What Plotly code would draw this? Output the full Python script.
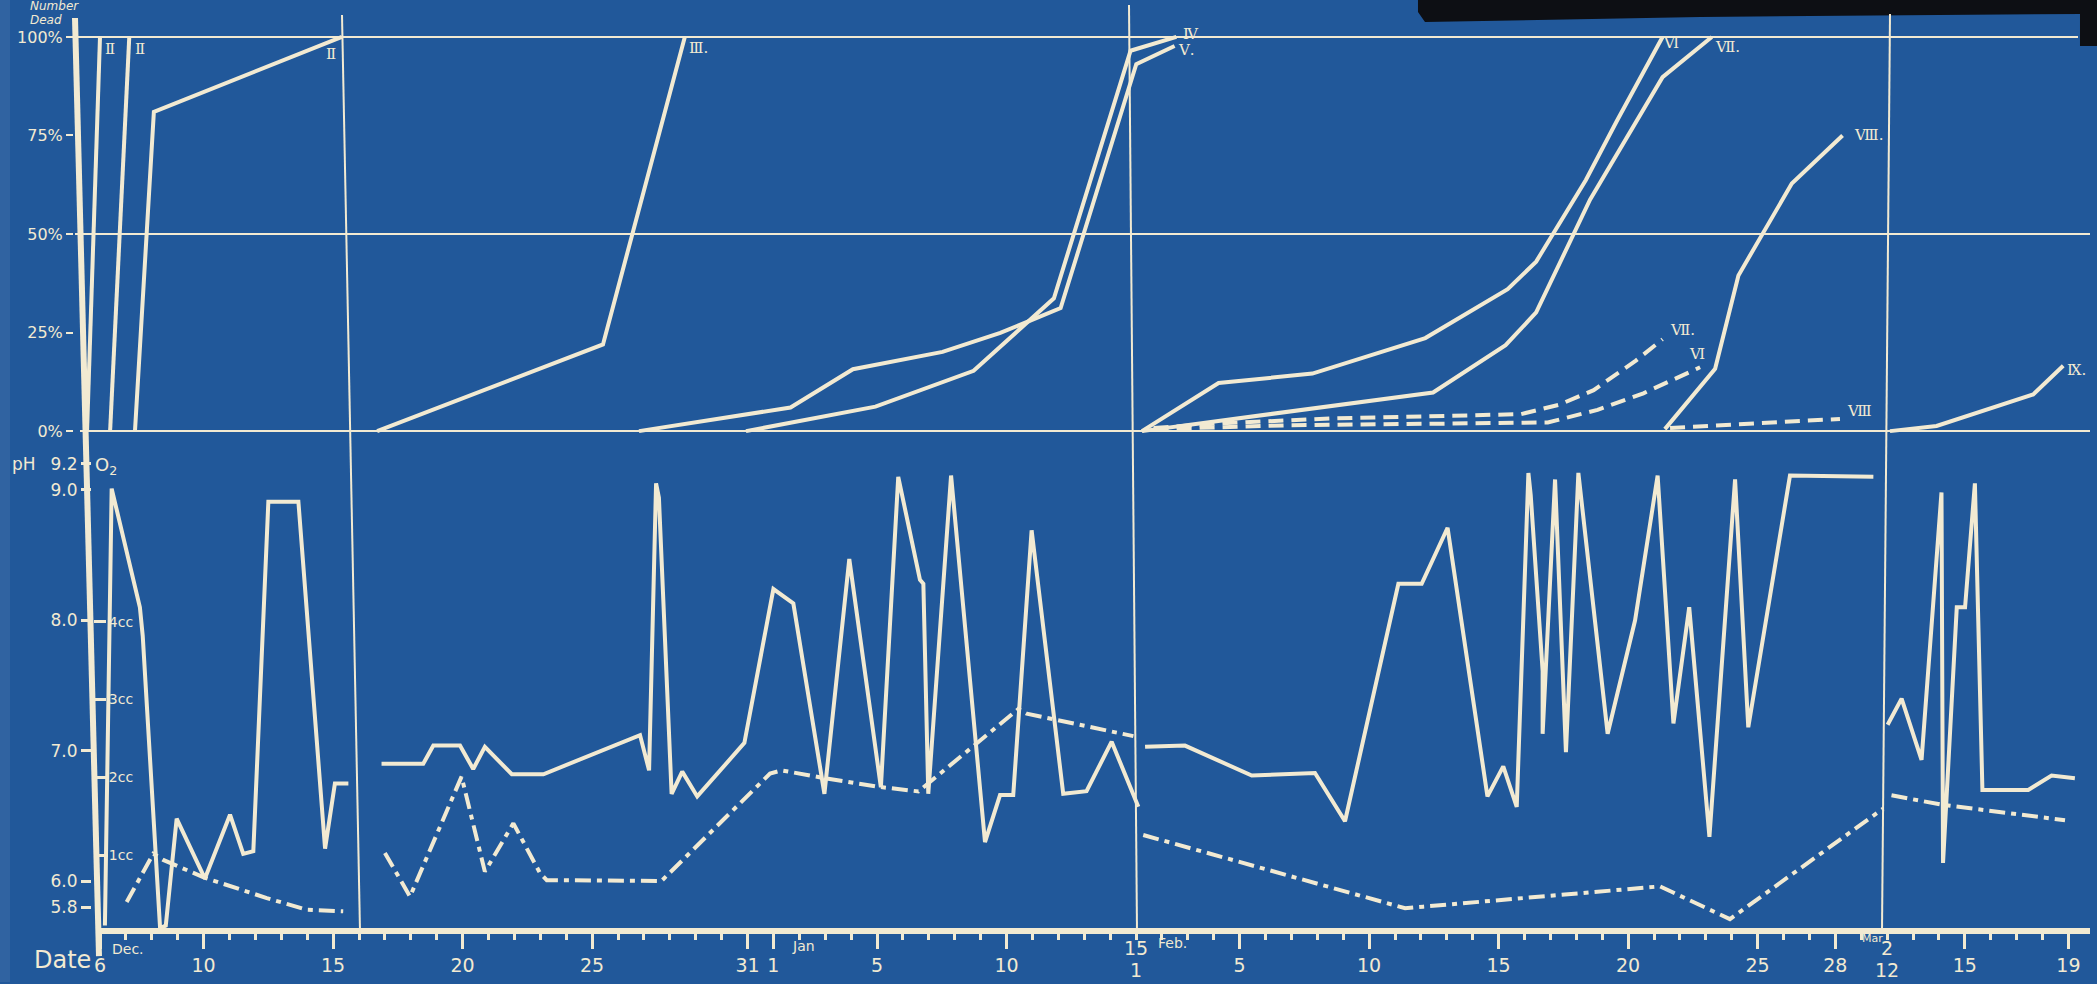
import plotly.graph_objects as go

W, H = 2097, 984
BLUE = "#21589a"
INK = "#f2ead2"

# Date scale: chart days counted from Dec 6; Jan 15 and Feb 1 share one position,
# as do Mar 2 and Mar 12.
tick_days = [0, 4, 9, 14, 19, 25, 26, 30, 35, 44, 49, 54, 59, 64, 67, 72, 76]
tick_text = ["6", "10", "15", "20", "25", "31", "1", "5", "10",
             "5", "10", "15", "20", "25", "28", "15", "19"]
join_days = [40, 69]
join_text = [("15", "1"), ("2", "12")]

# ---- Number dead (%), solid curves ----
dead_IIa_day = [-0.50, 0.00]
dead_IIa_pct = [0, 100]
dead_IIb_day = [0.39, 1.13]
dead_IIb_pct = [0, 100]
dead_IIc_day = [1.35, 2.08, 9.34]
dead_IIc_pct = [0, 81, 100]
dead_III_day = [10.70, 19.42, 22.58]
dead_III_pct = [0, 22, 100]
dead_IV_day = [24.94, 29.94, 33.73, 36.83, 39.79, 41.56]
dead_IV_pct = [0, 6.2, 15.3, 33.7, 96.5, 100]
dead_V_day = [20.81, 26.66, 29.07, 32.53, 34.76, 37.09, 40.01, 41.49]
dead_V_pct = [0, 6.0, 15.7, 20.1, 24.9, 31.2, 93.1, 97.7]
dead_VI_day = [40.23, 43.19, 46.81, 51.17, 54.35, 55.45, 57.37, 58.56, 60.33]
dead_VI_pct = [0, 12.2, 14.6, 23.6, 36.0, 43.0, 63.7, 78.6, 100]
dead_VII_day = [40.23, 51.47, 54.27, 55.45, 57.53, 60.33, 62.23]
dead_VII_pct = [0, 9.8, 21.8, 30.1, 58.7, 89.8, 100]
dead_VIII_day = [60.42, 62.36, 63.26, 65.32, 67.28]
dead_VIII_pct = [0.5, 15.8, 39.5, 62.8, 75]
dead_IX_day = [69.11, 70.91, 74.64, 75.80]
dead_IX_pct = [0, 1.3, 9.3, 16.6]

# ---- Number dead (%), dashed curves ----
dead_VIIb_day = [40.68, 43.34, 47.48, 51.91, 54.86, 56.34, 57.67, 59.30, 60.33]
dead_VIIb_pct = [0.8, 2.0, 3.2, 4.0, 4.3, 6.7, 10.4, 17.9, 23.3]
dead_VIb_day = [40.68, 46.00, 51.91, 55.90, 57.82, 59.59, 61.78]
dead_VIb_pct = [0.5, 1.5, 1.9, 2.2, 5.4, 9.6, 16.2]
dead_VIIIb_day = [60.62, 67.18]
dead_VIIIb_pct = [0.8, 3.1]

# ---- pH ----
ph_dec_day = [0.19, 0.45, 1.54, 1.65, 2.32, 2.54, 2.96, 4.05, 5.02, 5.53, 5.92,
              6.50, 7.66, 8.69, 9.07, 9.59]
ph_dec = [5.66, 9.01, 8.10, 7.88, 5.64, 5.66, 6.48, 6.02, 6.51, 6.21, 6.23,
          8.91, 8.91, 6.25, 6.75, 6.75]
ph_jan_day = [10.87, 12.48, 12.87, 13.90, 14.41, 14.86, 15.90, 17.12,
              20.85, 21.20, 21.47, 21.58, 22.07, 22.48, 23.06, 24.88,
              26.00, 26.77, 27.97, 28.93, 30.15, 30.82, 31.66, 31.79,
              31.98, 32.86, 34.17, 34.75, 35.26, 35.97, 37.19, 38.09,
              39.06, 40.09]
ph_jan = [6.90, 6.90, 7.04, 7.04, 6.86, 7.03, 6.82, 6.82,
          7.12, 6.85, 9.05, 8.94, 6.67, 6.84, 6.65, 7.06,
          8.24, 8.13, 6.67, 8.47, 6.72, 9.10, 8.31, 8.28,
          6.67, 9.11, 6.30, 6.66, 6.66, 8.69, 6.67, 6.69,
          7.07, 6.57]
ph_feb_day = [40.35, 41.89, 44.47, 46.91, 48.07, 50.13, 51.03, 52.03,
              53.57, 54.18, 54.70, 55.15, 55.24, 55.70, 55.70, 56.18,
              56.60, 57.08, 58.21, 59.27, 60.14, 60.75, 61.36, 62.14,
              63.13, 63.64, 65.25, 68.47]
ph_feb = [7.03, 7.04, 6.81, 6.83, 6.46, 8.28, 8.28, 8.71,
          6.65, 6.88, 6.57, 9.13, 8.96, 7.61, 7.13, 9.08,
          6.99, 9.13, 7.13, 8.00, 9.11, 7.21, 8.10, 6.34,
          9.08, 7.18, 9.11, 9.10]
ph_mar_day = [69.02, 69.56, 70.33, 71.10, 71.16, 71.69, 72.01, 72.39, 72.68,
              74.45, 75.35, 76.25]
ph_mar = [7.20, 7.40, 6.93, 8.98, 6.14, 8.10, 8.10, 9.05, 6.70, 6.70, 6.81, 6.79]

# ---- Dissolved oxygen (cc) ----
o2_dec_day = [1.03, 2.06, 2.44, 4.05, 6.44, 7.98, 9.39]
o2_dec = [0.40, 1.02, 0.94, 0.71, 0.45, 0.30, 0.28]
o2_jan_day = [11.00, 11.97, 13.96, 14.86, 15.96, 16.99, 17.25, 21.68,
              25.87, 26.32, 27.99, 30.05, 31.60, 35.46, 35.78, 39.90]
o2_jan = [1.03, 0.47, 2.01, 0.79, 1.41, 0.77, 0.68, 0.67,
          2.05, 2.09, 1.99, 1.88, 1.82, 2.88, 2.82, 2.53]
o2_feb_day = [40.28, 50.39, 51.09, 60.23, 62.93, 68.85]
o2_feb = [1.26, 0.32, 0.34, 0.60, 0.18, 1.60]
o2_mar_day = [69.17, 71.10, 75.87]
o2_mar = [1.77, 1.65, 1.45]


def px(x):
    return x / W


def py(y):
    return 1 - y / H


# Axis geometry (pixel based, converted to paper fractions)
X0_PX, DAY_PX = 100.0, 25.9
PCT0_PX, PCT_PX = 432.0, 3.95
x_range = [-X0_PX / DAY_PX, (W - X0_PX) / DAY_PX]
top_dom = [py(440), py(20)]
top_range = [(PCT0_PX - 440) / PCT_PX, (PCT0_PX - 20) / PCT_PX]
bot_dom = [py(933), py(440)]
ph_range = [6 - (933 - 883) / 130.7, 6 + (883 - 440) / 130.7]
o2_range = [(935 - 933) / 78.0, (935 - 440) / 78.0]

fig = go.Figure()


def add_line(xs, ys, axis, dash="solid", width=4):
    fig.add_trace(go.Scatter(
        x=xs, y=ys, mode="lines", xaxis="x", yaxis=axis,
        line=dict(color=INK, width=width, dash=dash),
        hoverinfo="skip", showlegend=False))


DASH = "15px,8px"
DASHDOT = "16px,6px,5px,6px"

solid_dead = [
    (dead_IIa_day, dead_IIa_pct), (dead_IIb_day, dead_IIb_pct),
    (dead_IIc_day, dead_IIc_pct), (dead_III_day, dead_III_pct),
    (dead_IV_day, dead_IV_pct), (dead_V_day, dead_V_pct),
    (dead_VI_day, dead_VI_pct), (dead_VII_day, dead_VII_pct),
    (dead_VIII_day, dead_VIII_pct), (dead_IX_day, dead_IX_pct),
]
for d, p in solid_dead:
    add_line(d, p, "y", width=4)
for d, p in [(dead_VIIb_day, dead_VIIb_pct), (dead_VIb_day, dead_VIb_pct),
             (dead_VIIIb_day, dead_VIIIb_pct)]:
    add_line(d, p, "y", dash=DASH, width=4)

for d, v in [(ph_dec_day, ph_dec), (ph_jan_day, ph_jan),
             (ph_feb_day, ph_feb), (ph_mar_day, ph_mar)]:
    add_line(d, v, "y2", width=4)
for d, v in [(o2_dec_day, o2_dec), (o2_jan_day, o2_jan),
             (o2_feb_day, o2_feb), (o2_mar_day, o2_mar)]:
    add_line(d, v, "y3", dash=DASHDOT, width=4)

shapes = []
# torn corner of the sheet
tear = [(1418, 0), (W, 0), (W, 46), (2080, 46), (2080, 14), (1700, 17),
        (1425, 22), (1418, 12)]
shapes.append(dict(
    type="path", xref="paper", yref="paper",
    path="M " + " L ".join(f"{px(a):.5f},{py(b):.5f}" for a, b in tear) + " Z",
    fillcolor="#0d0f14", line=dict(width=0), layer="below"))
shapes.append(dict(type="rect", xref="paper", yref="paper",
                   x0=0, x1=px(10), y0=0, y1=1,
                   fillcolor="rgba(255,255,255,0.07)", line=dict(width=0),
                   layer="below"))
# percentage guide lines
for val, xa, xb in [(100, 75, 2078), (50, 75, 2090), (0, 80, 2090)]:
    shapes.append(dict(type="line", xref="paper", yref="y",
                       x0=px(xa), x1=px(xb), y0=val, y1=val,
                       line=dict(color=INK, width=2)))
# vertical dividers between experiments
for (xa, ya), (xb, yb) in [((342, 15), (360, 933)), ((1129, 5), (1137, 933)),
                           ((1890, 14), (1882, 933))]:
    shapes.append(dict(type="line", xref="paper", yref="paper",
                       x0=px(xa), y0=py(ya), x1=px(xb), y1=py(yb),
                       line=dict(color=INK, width=2)))
# main axes
shapes.append(dict(type="line", xref="paper", yref="paper",
                   x0=px(75), y0=py(18), x1=px(99), y1=py(958),
                   line=dict(color=INK, width=6)))
shapes.append(dict(type="line", xref="paper", yref="paper",
                   x0=px(96), y0=py(933), x1=px(2090), y1=py(933),
                   line=dict(color=INK, width=6)))

FONT = "DejaVu Sans"
ann = []


def note(text, x, y, size=16, xanchor="center", italic=False):
    ann.append(dict(text=f"<i>{text}</i>" if italic else text,
                    x=px(x), y=py(y), xref="paper", yref="paper",
                    showarrow=False, xanchor=xanchor, yanchor="middle",
                    font=dict(family=FONT, size=size, color=INK)))


note("Number", 28, 6, 12, "left", italic=True)
note("Dead", 28, 20, 12, "left", italic=True)
note("pH", 24, 465, 17)
note("O<sub>2</sub>", 106, 467, 18)
note("Date", 62, 962, 24)
note("Dec.", 128, 951, 14)
note("Jan", 803, 948, 14)
note("Feb.", 1172, 945, 14)
note("Mar", 1872, 940, 11)

for day, (upper, lower) in zip(join_days, join_text):
    for txt, yy in [(upper, 950), (lower, 972)]:
        ann.append(dict(text=txt, x=day, y=py(yy), xref="x", yref="paper",
                        showarrow=False, xanchor="center", yanchor="middle",
                        font=dict(family=FONT, size=19, color=INK)))

# Roman-numeral tags at the end of each mortality curve
tags = [
    ("Ⅱ", dead_IIa_day, dead_IIa_pct, 3, -12, "left"),
    ("Ⅱ", dead_IIb_day, dead_IIb_pct, 4, -12, "left"),
    ("Ⅱ", dead_IIc_day, dead_IIc_pct, -4, -17, "right"),
    ("Ⅲ.", dead_III_day, dead_III_pct, 2, -11, "left"),
    ("Ⅳ", dead_IV_day, dead_IV_pct, 5, 3, "left"),
    ("Ⅴ.", dead_V_day, dead_V_pct, 1, -4, "left"),
    ("Ⅵ", dead_VI_day, dead_VI_pct, -2, -6, "left"),
    ("Ⅶ.", dead_VII_day, dead_VII_pct, 1, -10, "left"),
    ("Ⅶ.", dead_VIIb_day, dead_VIIb_pct, 5, 9, "left"),
    ("Ⅵ", dead_VIb_day, dead_VIb_pct, -3, 13, "center"),
    ("Ⅷ.", dead_VIII_day, dead_VIII_pct, 9, 0, "left"),
    ("Ⅷ", dead_VIIIb_day, dead_VIIIb_pct, 5, 8, "left"),
    ("Ⅸ.", dead_IX_day, dead_IX_pct, 2, -4, "left"),
]
for text, d, p, dx, dy, anchor in tags:
    ann.append(dict(text=text, x=d[-1], y=p[-1], xref="x", yref="y",
                    showarrow=False, xanchor=anchor, yanchor="middle",
                    xshift=dx, yshift=dy,
                    font=dict(family="DejaVu Serif", size=15, color=INK)))

axis_common = dict(showgrid=False, zeroline=False, showline=False,
                   tickcolor=INK, tickfont=dict(family=FONT, color=INK))

fig.update_layout(
    width=W, height=H, margin=dict(l=0, r=0, t=0, b=0),
    paper_bgcolor=BLUE, plot_bgcolor=BLUE,
    shapes=shapes, annotations=ann, showlegend=False,
    xaxis=dict(
        **axis_common, domain=[0, 1], range=x_range, anchor="y2",
        tickmode="array", tickvals=tick_days, ticktext=tick_text,
        ticks="outside", ticklen=17, tickwidth=3,
        tickfont_size=19,
        minor=dict(tickmode="array", tickvals=list(range(0, 77)),
                   ticks="outside", ticklen=8, tickwidth=2.5,
                   tickcolor=INK, showgrid=False),
    ),
    yaxis=dict(
        **axis_common, domain=top_dom, range=top_range, anchor="free",
        position=px(73), tickmode="array", tickvals=[0, 25, 50, 75, 100],
        ticktext=["0%", "25%", "50%", "75%", "100%"], ticks="outside",
        ticklen=7, tickwidth=2, tickfont_size=16,
    ),
    yaxis2=dict(
        **axis_common, domain=bot_dom, range=ph_range, anchor="free",
        position=px(91), tickmode="array",
        tickvals=[5.8, 6.0, 7.0, 8.0, 9.0, 9.2],
        ticktext=["5.8", "6.0", "7.0", "8.0", "9.0", "9.2"], ticks="outside",
        ticklen=10, tickwidth=2.5, tickfont_size=17,
    ),
    yaxis3=dict(
        **axis_common, range=o2_range, overlaying="y2", side="right",
        anchor="free", position=px(93), tickmode="array",
        tickvals=[1, 2, 3, 4], ticktext=["1cc", "2cc", "3cc", "4cc"],
        ticks="outside", ticklen=12, tickwidth=2.5, tickfont_size=14,
    ),
)

fig.write_html("out.html", config={"displayModeBar": False})
